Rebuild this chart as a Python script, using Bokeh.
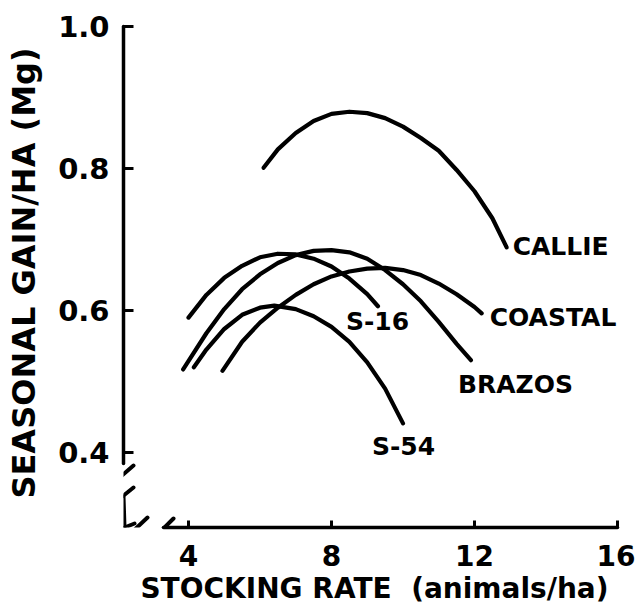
from bokeh.plotting import figure
from bokeh.models import Range1d, FixedTicker
from bokeh.embed import file_html
from bokeh.resources import INLINE
from bokeh.core.properties import value

# ---------------- data ----------------
x_ticks = [4, 8, 12, 16]
y_ticks = [0.4, 0.6, 0.8, 1.0]
y_tick_labels = ["0.4", "0.6", "0.8", "1.0"]

callie_x = [6.1, 6.5, 7.0, 7.5, 8.0, 8.5, 9.0, 9.5, 10.0, 10.5, 11.0, 11.5, 12.0, 12.5, 12.9]
callie_y = [0.801, 0.827, 0.850, 0.867, 0.877, 0.880, 0.878, 0.871, 0.859, 0.843, 0.825, 0.798, 0.768, 0.730, 0.689]

s16_x = [4.0, 4.5, 5.0, 5.5, 6.0, 6.5, 7.0, 7.5, 8.0, 8.5, 9.0, 9.3]
s16_y = [0.590, 0.622, 0.646, 0.663, 0.675, 0.680, 0.679, 0.673, 0.662, 0.645, 0.623, 0.606]

brazos_x = [3.85, 4.5, 5.0, 5.5, 6.0, 6.5, 7.0, 7.5, 8.0, 8.5, 9.0, 9.5, 10.0, 10.5, 11.0, 11.5, 11.9]
brazos_y = [0.517, 0.568, 0.602, 0.630, 0.651, 0.667, 0.678, 0.684, 0.685, 0.682, 0.673, 0.657, 0.637, 0.613, 0.584, 0.553, 0.530]

coastal_x = [4.95, 5.5, 6.0, 6.5, 7.0, 7.5, 8.0, 8.5, 9.0, 9.5, 10.0, 10.5, 11.0, 11.5, 12.0, 12.2]
coastal_y = [0.515, 0.556, 0.583, 0.604, 0.622, 0.637, 0.648, 0.655, 0.659, 0.660, 0.657, 0.650, 0.638, 0.623, 0.605, 0.596]

s54_x = [4.15, 4.5, 5.0, 5.5, 6.0, 6.4, 7.0, 7.5, 8.0, 8.5, 9.0, 9.5, 10.0]
s54_y = [0.520, 0.545, 0.574, 0.594, 0.604, 0.607, 0.602, 0.592, 0.577, 0.556, 0.527, 0.490, 0.441]

series_names = ["CALLIE", "COASTAL", "BRAZOS", "S-16", "S-54"]
series_x = [callie_x, coastal_x, brazos_x, s16_x, s54_x]
series_y = [callie_y, coastal_y, brazos_y, s16_y, s54_y]

x_title = "STOCKING RATE\u00a0 (animals/ha)"
y_title = "SEASONAL GAIN/HA (Mg)"

# ---------------- layout / style ----------------
W, H = 635, 608
B_LEFT, B_RIGHT, B_TOP, B_BOTTOM = 123, 10, 18, 81
FW, FH = W - B_LEFT - B_RIGHT, H - B_TOP - B_BOTTOM
X0, X1 = 2.182, 2.182 + FW / 35.75
Y0, Y1 = 0.2944, 0.2944 + FH / 710.0

def px_x(px):
    return X0 + (px - B_LEFT) * (X1 - X0) / FW

def px_y(py):
    return Y0 + (H - B_BOTTOM - py) * (Y1 - Y0) / FH

FONT = "DejaVu Sans"
INK = "#000000"

# label offsets in screen pixels from each curve's last point
label_offsets = {
    "CALLIE": (6, -1),
    "COASTAL": (8, 4),
    "BRAZOS": (-13, 24),
    "S-16": (-32, 15),
    "S-54": (-31, 23),
}

p = figure(width=W, height=H, x_range=Range1d(X0, X1), y_range=Range1d(Y0, Y1),
           output_backend="svg", toolbar_location=None,
           min_border_left=B_LEFT, min_border_right=B_RIGHT,
           min_border_top=B_TOP, min_border_bottom=B_BOTTOM)
p.outline_line_color = None
p.grid.visible = False
p.background_fill_color = "white"
p.border_fill_color = "white"

xa = p.xaxis[0]
ya = p.yaxis[0]
for ax in (xa, ya):
    ax.axis_line_width = 3.5
    ax.axis_line_color = INK
    ax.axis_line_cap = "round"
    ax.major_tick_line_width = 3
    ax.major_tick_line_color = INK
    ax.minor_tick_line_color = None
    ax.major_tick_out = 0
    ax.major_label_text_font = FONT
    ax.major_label_text_font_style = "bold"
    ax.major_label_text_color = INK
    ax.axis_label_text_font = FONT
    ax.axis_label_text_font_style = "bold"
    ax.axis_label_text_color = INK

xa.ticker = FixedTicker(ticks=x_ticks)
xa.bounds = (px_x(163), 16)
xa.major_tick_in = 7
xa.major_label_text_font_size = "28px"
xa.major_label_standoff = 17
xa.axis_label = x_title
xa.axis_label_text_font_size = "28px"
xa.axis_label_standoff = 3

ya.ticker = FixedTicker(ticks=y_ticks)
ya.major_label_overrides = {t: s for t, s in zip(y_ticks, y_tick_labels)}
ya.bounds = (px_y(463), 1.0)
ya.major_tick_in = 10
ya.major_label_text_font_size = "29px"
ya.major_label_standoff = 14
ya.axis_label = y_title
ya.axis_label_text_font_size = "32px"
ya.axis_label_standoff = 12

# axis break marks (screen-pixel layout converted to data space)
brk = [((111, 484), (133, 465)),
       ((112, 504), (133, 487)),
       ((123, 496), (124, 527)),
       ((124, 527), (134, 523)),
       ((129, 534), (147, 517)),
       ((155, 536), (173, 518))]
p.segment(x0=[px_x(a[0]) for a, b in brk], y0=[px_y(a[1]) for a, b in brk],
          x1=[px_x(b[0]) for a, b in brk], y1=[px_y(b[1]) for a, b in brk],
          line_width=4, line_color=INK, line_cap="round")

for name, xs, ys in zip(series_names, series_x, series_y):
    p.line(xs, ys, line_width=4.2, line_color=INK, line_cap="round", line_join="round")
    dx, dy = label_offsets[name]
    p.text(x=[xs[-1]], y=[ys[-1]], text=[name], x_offset=dx, y_offset=dy,
           text_font=value(FONT), text_font_style="bold", text_font_size="25px",
           text_color=INK, text_align="left", text_baseline="middle")

open("out.html", "w").write(file_html(p, INLINE))
